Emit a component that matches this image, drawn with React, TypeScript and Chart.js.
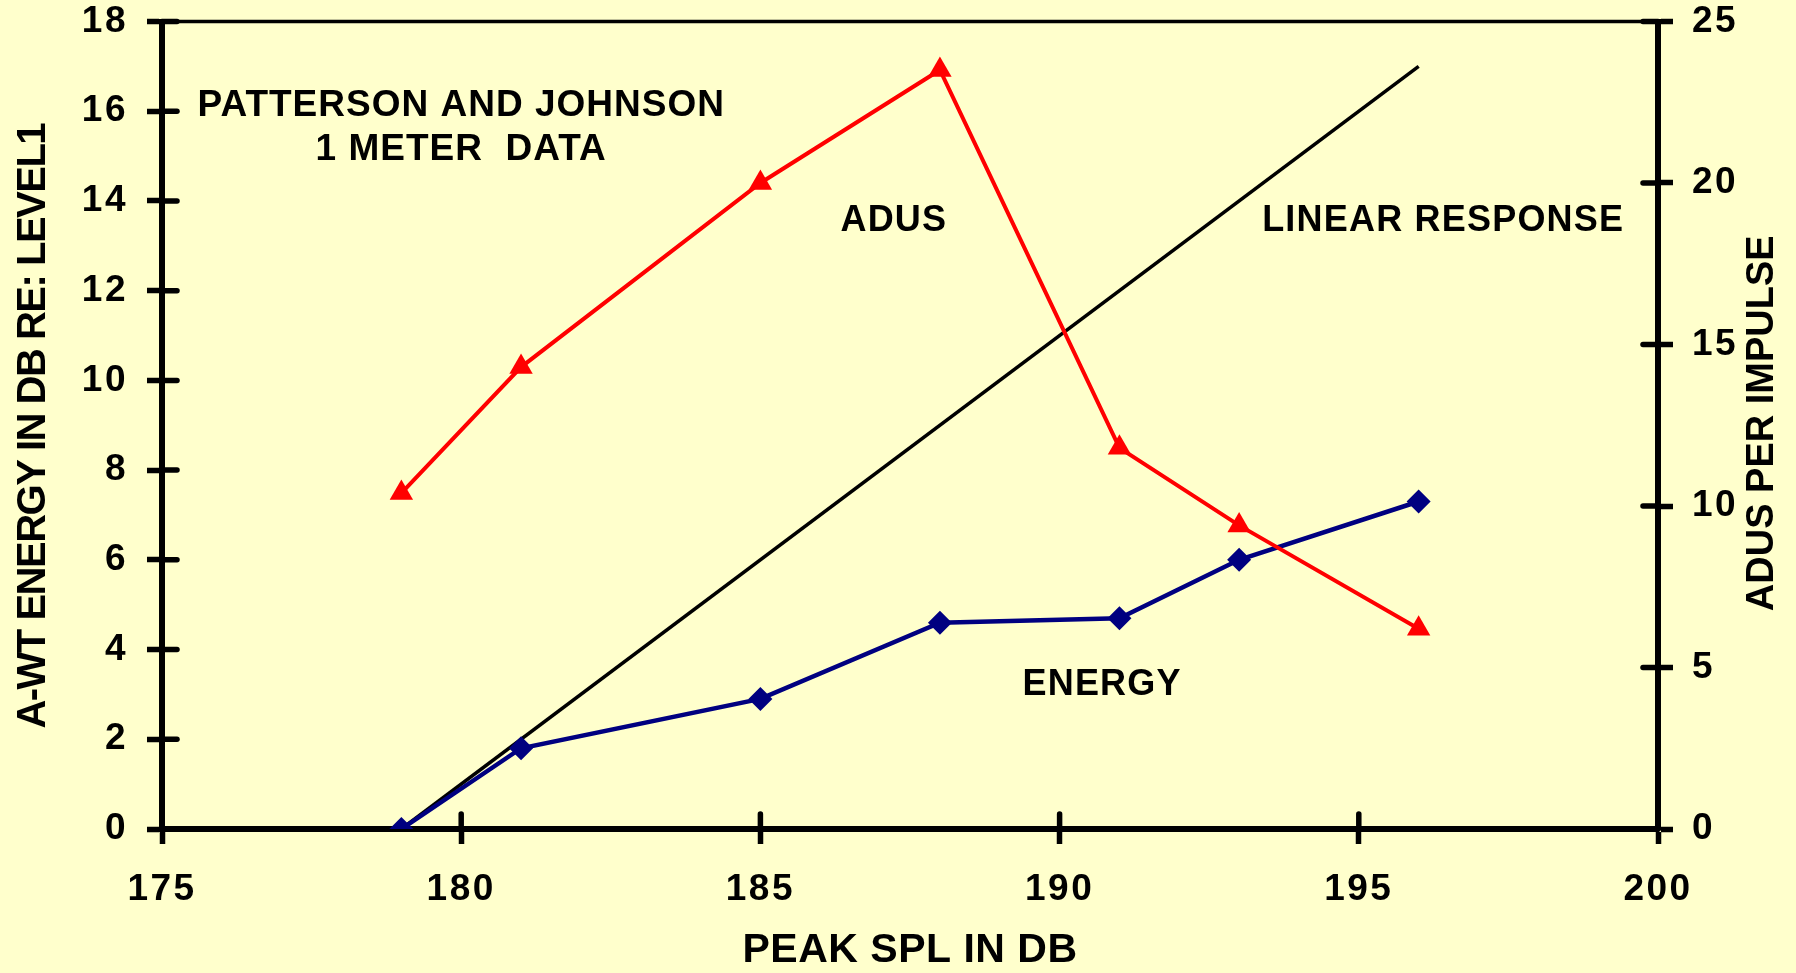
import React, { useEffect, useRef } from 'react';
import { Chart, registerables } from 'chart.js';

Chart.register(...registerables);

// ---- data ----
const splValues = [179, 181, 185, 188, 191, 193, 196];
const energyValues = [0, 1.8, 2.9, 4.6, 4.7, 6.0, 7.3];
const adusValues = [10.4, 14.3, 20.0, 23.5, 11.8, 9.4, 6.2];
const linearX = [179, 196];
const linearY = [0, 17];

const xTitle = 'PEAK SPL IN DB';
const leftTitle = 'A-WT ENERGY IN DB RE: LEVEL1';
const rightTitle = 'ADUS PER IMPULSE';

// annotation labels in data units (x: SPL, y: left axis)
const noteTexts = ['PATTERSON AND JOHNSON', '1 METER  DATA', 'ADUS', 'LINEAR RESPONSE', 'ENERGY'];
const noteX = [180.0, 180.0, 187.23, 196.41, 190.71];
const noteY = [16.12, 15.15, 13.56, 13.56, 3.2];

const FONT = "'Liberation Sans', Arial, sans-serif";
const W = 1796;
const H = 973;

const bgPlugin = {
  id: 'bg',
  beforeDraw(chart: any) {
    const ctx = chart.ctx;
    ctx.save();
    ctx.fillStyle = '#FFFFCC';
    ctx.fillRect(0, 0, chart.width, chart.height);
    ctx.restore();
    ctx.letterSpacing = '2.5px';
  },
};

const decoPlugin = {
  id: 'deco',
  afterDraw(chart: any) {
    const ctx = chart.ctx;
    const ca = chart.chartArea;
    ctx.save();
    ctx.letterSpacing = '0px';
    ctx.strokeStyle = '#000';
    ctx.lineCap = 'round';
    // top frame line
    ctx.lineWidth = 3.5;
    ctx.beginPath();
    ctx.moveTo(ca.left, ca.top);
    ctx.lineTo(ca.right, ca.top);
    ctx.stroke();
    // inner half of tick marks
    ctx.lineWidth = 5.5;
    const tl = 15;
    const xs = chart.scales.x;
    xs.ticks.forEach((t: any) => {
      const p = xs.getPixelForValue(t.value);
      ctx.beginPath();
      ctx.moveTo(p, ca.bottom);
      ctx.lineTo(p, ca.bottom - tl);
      ctx.stroke();
    });
    const yl = chart.scales.y;
    yl.ticks.forEach((t: any) => {
      const p = yl.getPixelForValue(t.value);
      ctx.beginPath();
      ctx.moveTo(ca.left, p);
      ctx.lineTo(ca.left + tl, p);
      ctx.stroke();
    });
    const yr = chart.scales.y2;
    yr.ticks.forEach((t: any) => {
      const p = yr.getPixelForValue(t.value);
      ctx.beginPath();
      ctx.moveTo(ca.right, p);
      ctx.lineTo(ca.right - tl, p);
      ctx.stroke();
    });

    // texts
    ctx.fillStyle = '#000';
    ctx.textAlign = 'center';
    ctx.textBaseline = 'middle';

    // annotations
    noteTexts.forEach((txt, i) => {
      ctx.font = i < 2 ? `bold 37px ${FONT}` : `bold 36px ${FONT}`;
      ctx.letterSpacing = i < 2 ? '1px' : '1.2px';
      ctx.fillText(txt, xs.getPixelForValue(noteX[i]), yl.getPixelForValue(noteY[i]));
    });

    // x title
    ctx.letterSpacing = '0.5px';
    ctx.font = `bold 41px ${FONT}`;
    ctx.fillText(xTitle, (ca.left + ca.right) / 2, 951);

    // left title
    ctx.font = `bold 40px ${FONT}`;
    ctx.letterSpacing = '-1.5px';
    ctx.save();
    ctx.translate(34, (ca.top + ca.bottom) / 2 + 1);
    ctx.rotate(-Math.PI / 2);
    ctx.fillText(leftTitle, 0, 0);
    ctx.restore();

    // right title
    ctx.font = `bold 38px ${FONT}`;
    ctx.letterSpacing = '0px';
    ctx.save();
    ctx.translate(1763, (ca.top + ca.bottom) / 2 - 2);
    ctx.rotate(-Math.PI / 2);
    ctx.fillText(rightTitle, 0, 0);
    ctx.restore();

    ctx.restore();
  },
};

export default function App() {
  const ref = useRef<HTMLCanvasElement | null>(null);

  useEffect(() => {
    if (!ref.current) return;
    const tickFont = { family: FONT, size: 37, weight: 'bold' as const };
    const gridOpts = {
      display: true,
      drawOnChartArea: false,
      drawTicks: true,
      tickLength: 15,
      tickWidth: 5.5,
      tickColor: '#000',
      color: '#000',
    };
    const chart = new Chart(ref.current, {
      type: 'line',
      data: {
        datasets: [
          {
            label: 'ADUS',
            data: splValues.map((x, i) => ({ x, y: adusValues[i] })),
            yAxisID: 'y2',
            borderColor: '#FF0000',
            backgroundColor: '#FF0000',
            borderWidth: 4,
            pointStyle: 'triangle',
            pointRadius: 13.5,
            pointBorderWidth: 0,
            pointBackgroundColor: '#FF0000',
            tension: 0,
            order: 0,
          },
          {
            label: 'ENERGY',
            data: splValues.map((x, i) => ({ x, y: energyValues[i] })),
            yAxisID: 'y',
            borderColor: '#000080',
            backgroundColor: '#000080',
            borderWidth: 4.5,
            pointStyle: 'rectRot',
            pointRadius: 12,
            pointBorderWidth: 0,
            pointBackgroundColor: '#000080',
            tension: 0,
            order: 1,
          },
          {
            label: 'LINEAR RESPONSE',
            data: linearX.map((x, i) => ({ x, y: linearY[i] })),
            yAxisID: 'y',
            borderColor: '#000000',
            borderWidth: 3.5,
            pointRadius: 0,
            tension: 0,
            order: 2,
          },
        ],
      },
      options: {
        animation: false,
        responsive: false,
        maintainAspectRatio: false,
        layout: { padding: { top: 21.5, left: 0, right: 0, bottom: 0 } },
        plugins: {
          legend: { display: false },
          tooltip: { enabled: false },
        },
        scales: {
          x: {
            type: 'linear',
            position: 'bottom',
            min: 175,
            max: 200,
            ticks: { stepSize: 5, color: '#000', font: tickFont, padding: 24, maxRotation: 0 },
            grid: gridOpts,
            border: { display: true, color: '#000', width: 6 },
            afterFit: (s: any) => {
              s.height = 144;
              s.paddingLeft = 0;
              s.paddingRight = 0;
            },
          },
          y: {
            type: 'linear',
            position: 'left',
            min: 0,
            max: 18,
            ticks: { stepSize: 2, color: '#000', font: tickFont, padding: 19 },
            grid: gridOpts,
            border: { display: true, color: '#000', width: 6 },
            afterFit: (s: any) => {
              s.width = 162;
              s.paddingTop = 0;
              s.paddingBottom = 0;
            },
          },
          y2: {
            type: 'linear',
            position: 'right',
            min: 0,
            max: 25,
            ticks: { stepSize: 5, color: '#000', font: tickFont, padding: 19 },
            grid: gridOpts,
            border: { display: true, color: '#000', width: 6 },
            afterFit: (s: any) => {
              s.width = 138;
              s.paddingTop = 0;
              s.paddingBottom = 0;
            },
          },
        },
      },
      plugins: [bgPlugin, decoPlugin],
    });
    return () => chart.destroy();
  }, []);

  return (
    <div style={{ position: 'fixed', left: 0, top: 0, width: W, height: H, background: '#FFFFCC' }}>
      <canvas ref={ref} width={W} height={H} style={{ display: 'block', width: W, height: H }} />
    </div>
  );
}
